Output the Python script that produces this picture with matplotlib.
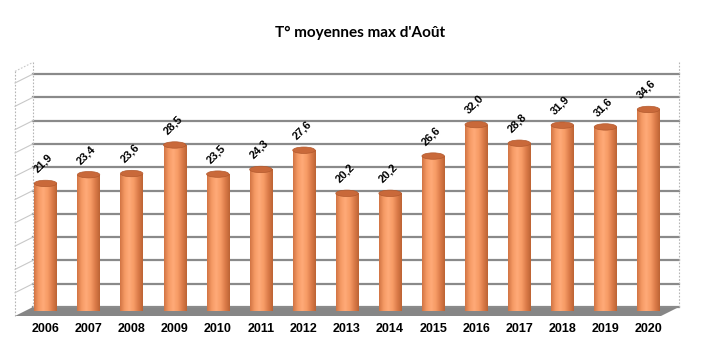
import matplotlib
matplotlib.use("Agg")
import matplotlib.pyplot as plt
import matplotlib.transforms as mtransforms
import numpy as np
from matplotlib.patches import Ellipse, Polygon
from matplotlib.lines import Line2D
from matplotlib.colors import LinearSegmentedColormap

plt.rcParams["font.family"] = ["Liberation Sans", "DejaVu Sans"]

YEARS = ["2006", "2007", "2008", "2009", "2010", "2011", "2012", "2013",
         "2014", "2015", "2016", "2017", "2018", "2019", "2020"]
TEMPS = [21.9, 23.4, 23.6, 28.5, 23.5, 24.3, 27.6, 20.2,
         20.2, 26.6, 32.0, 28.8, 31.9, 31.6, 34.6]
GRID_STEP = 4
Y_MAX = 40

BAR_W = 0.52
CAP_H = 1.1
BACK = (9, 4)     # pixel shift of the back wall
FRONT = (-9, -5)  # pixel shift of the front edge

cyl_cmap = LinearSegmentedColormap.from_list(
    "cyl", ["#d27444", "#f59a64", "#ffaa78", "#f79c66", "#dc7c4a", "#bd6434"])
cap_color = "#c9693a"

fig = plt.figure(figsize=(7.07, 3.6), dpi=100)
ax = fig.add_axes([24 / 707, 49 / 360, 646 / 707, 233 / 360])
x = np.arange(len(YEARS))

# cylinders
grad = np.linspace(0, 1, 64).reshape(1, -1)
bars = ax.bar(x, TEMPS, width=BAR_W, color="#f59a64", zorder=3)
for xi, v, bar in zip(x, TEMPS, bars):
    im = ax.imshow(grad, extent=(xi - BAR_W / 2, xi + BAR_W / 2, 0, v),
                   aspect="auto", cmap=cyl_cmap, zorder=3.1, interpolation="bilinear")
    im.set_clip_path(bar)
    bottom = Ellipse((xi, 0), BAR_W, CAP_H, facecolor="none", edgecolor="none", zorder=3)
    ax.add_patch(bottom)
    im2 = ax.imshow(grad, extent=(xi - BAR_W / 2, xi + BAR_W / 2, -CAP_H, 0),
                    aspect="auto", cmap=cyl_cmap, zorder=3.1, interpolation="bilinear")
    im2.set_clip_path(bottom)
    ax.add_patch(Ellipse((xi, v), BAR_W, CAP_H, facecolor=cap_color,
                         edgecolor="#b35a2e", lw=0.5, zorder=3.2))
    ax.annotate(f"{v:.1f}".replace(".", ","), (xi, v), xytext=(-2, 20),
                textcoords="offset pixels", rotation=45, ha="center", va="center",
                fontsize=8, fontweight="bold", zorder=4)

ax.set_xlim(-0.5, 14.5)
ax.set_ylim(0, Y_MAX)
ax.set_xticks(x)
ax.set_xticklabels(YEARS, fontsize=9, fontweight="bold")
ax.set_yticks([])
ax.tick_params(axis="x", length=0, pad=8.5)
for s in ax.spines.values():
    s.set_visible(False)
ax.patch.set_alpha(0)


def shifted(dx, dy):
    return ax.transData + mtransforms.ScaledTranslation(dx / 100, dy / 100, fig.dpi_scale_trans)


back_tr = shifted(*BACK)
front_tr = shifted(*FRONT)
ident = mtransforms.IdentityTransform()

# back wall grid lines
for g in range(0, Y_MAX + 1, GRID_STEP):
    ax.add_line(Line2D([-0.5, 14.5], [g, g], color="#8a8a8a", lw=1.6,
                       transform=back_tr, clip_on=False, zorder=1))

# walls (dashed edges)
wall_top = 42
for xx in (-0.5, 14.5):
    ax.add_line(Line2D([xx, xx], [0, wall_top], color="#b5b5b5", lw=0.8,
                       ls=(0, (1.5, 1.5)), transform=back_tr, clip_on=False, zorder=1))
ax.add_line(Line2D([-0.5, -0.5], [0, wall_top], color="#b5b5b5", lw=0.8,
                   ls=(0, (1.5, 1.5)), transform=front_tr, clip_on=False, zorder=1))

# side wall diagonals
for g in list(range(GRID_STEP, Y_MAX + 1, GRID_STEP)) + [wall_top]:
    p_back = back_tr.transform((-0.5, g))
    p_front = front_tr.transform((-0.5, g))
    ls = "-" if g != wall_top else (0, (1.5, 1.5))
    fig.add_artist(Line2D([p_front[0], p_back[0]], [p_front[1], p_back[1]],
                          color="#c8c8c8", lw=0.8, ls=ls, transform=ident))

# floor
pts = [back_tr.transform((-0.5, 0)), back_tr.transform((14.5, 0)),
       front_tr.transform((14.5, 0)), front_tr.transform((-0.5, 0))]
fig.add_artist(Polygon(pts, closed=True, facecolor="#868686", edgecolor="none",
                       transform=ident, zorder=0.5))
ax.set_zorder(1)

fig.text(360 / 707, 1 - 33 / 360, "T° moyennes max d'Août", ha="center", va="center",
         fontsize=11, fontweight="bold", family=["Lato", "DejaVu Sans"])

fig.savefig("out.png", dpi=100)
